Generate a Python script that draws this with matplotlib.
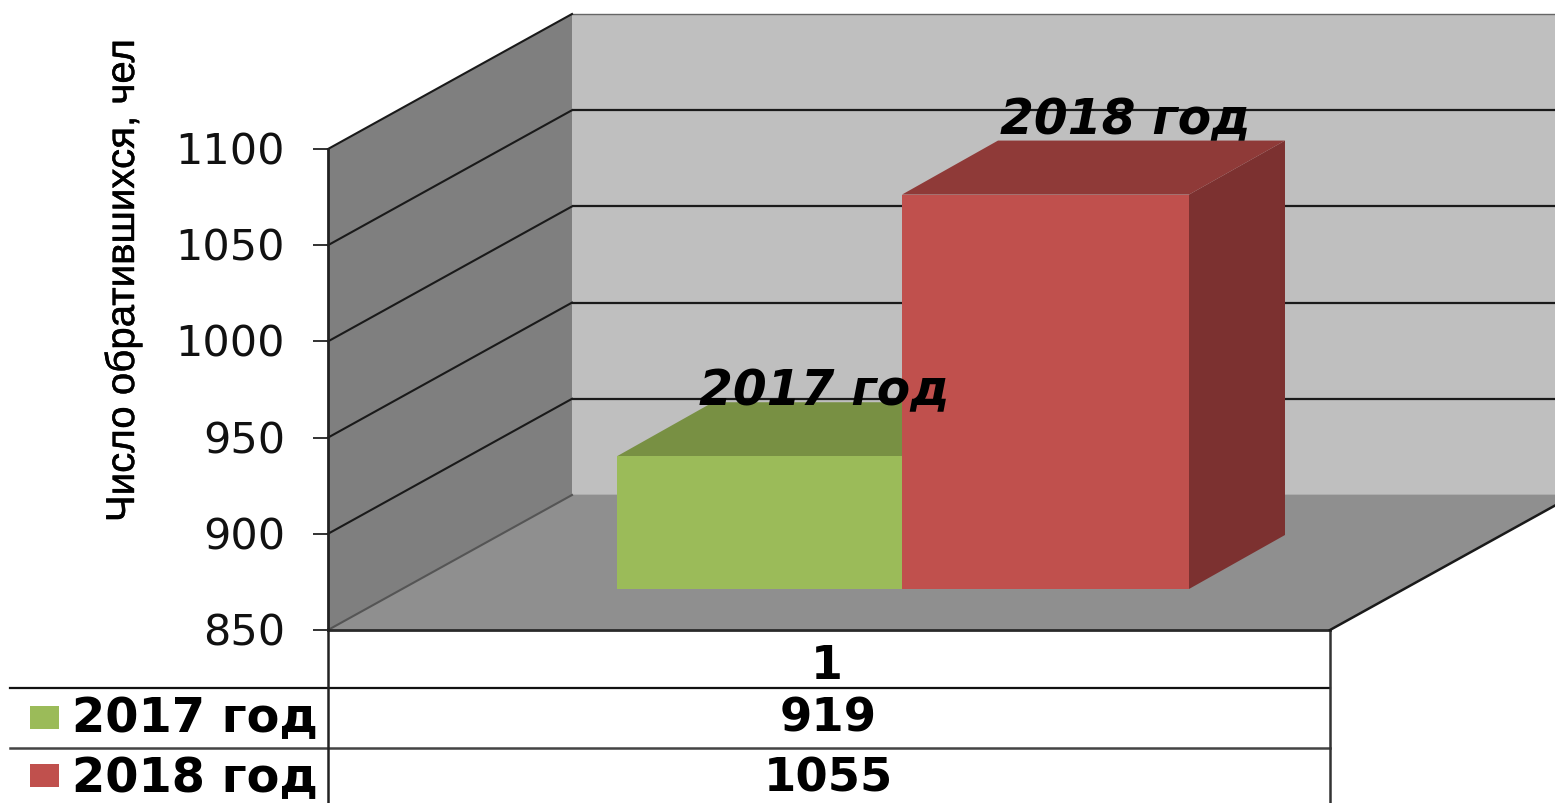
import matplotlib
matplotlib.use("Agg")
import matplotlib.pyplot as plt
import matplotlib.patheffects as pe
from matplotlib.patches import Polygon, Rectangle
from matplotlib.transforms import ScaledTranslation

series_names = ["2017 год", "2018 год"]
series_values = [919, 1055]
series_colors = ["#9bbb59", "#c0504d"]
top_colors = ["#789043", "#8f3a38"]
side_colors = ["#6f8a3a", "#7c3130"]
y_ticks = [850, 900, 950, 1000, 1050, 1100]
category = "1"
y_title = "Число обратившихся, чел"

W, H = 1555, 804
BASE = 850
PX_PER_VAL = 481 / 250


def px(n):
    # pixel height in value units
    return n / PX_PER_VAL


fig = plt.figure(figsize=(W / 100, H / 100), dpi=100, facecolor="white")

# table part, plain pixel coordinates
tab = fig.add_axes([0, 0, 1, 1])
tab.set_xlim(0, W)
tab.set_ylim(H, 0)
tab.axis("off")

ax = fig.add_axes([328 / W, (H - 631) / H, 1002 / W, 481 / H])
ax.set_xlim(328, 1330)
ax.set_ylim(BASE, 1100)
ax.patch.set_visible(False)
for s in ["top", "right", "bottom"]:
    ax.spines[s].set_visible(False)
ax.spines["left"].set_linewidth(2.0)
ax.spines["left"].set_color("#222222")
ax.spines["left"].set_zorder(6)

# walls and floor
dx, dy = 244, px(135)
ax.add_patch(Polygon([(572, BASE + dy), (1700, BASE + dy), (1700, 1100 + dy), (572, 1100 + dy)],
                     fc="#bfbfbf", ec="none", clip_on=False, zorder=1))
ax.add_patch(Polygon([(328, BASE), (572, BASE + dy), (572, 1100 + dy), (328, 1100)],
                     fc="#7f7f7f", ec="none", clip_on=False, zorder=2))
ax.add_patch(Polygon([(328, BASE), (1330, BASE), (1330 + dx, BASE + dy), (572, BASE + dy)],
                     fc="#8f8f8f", ec="none", clip_on=False, zorder=2))

for v in y_ticks:
    col = "#1a1a1a" if v > BASE else "#555555"
    ax.plot([328, 572], [v, v + dy], color=col, lw=1.5, clip_on=False, zorder=3)
    if v < 1100:
        ax.plot([572, 1700], [v + dy, v + dy], color=col if v > BASE else "#666666",
                lw=1.6 if v > BASE else 1.0, clip_on=False, zorder=1.5)
ax.plot([572, 1700], [1100 + dy, 1100 + dy], color="#666666", lw=1.0, clip_on=False, zorder=1.5)
ax.plot([328, 1330], [BASE, BASE], color="#2a2a2a", lw=2.0, clip_on=False, zorder=5)
ax.plot([1330, 1330 + dx], [BASE, BASE + dy], color="#1a1a1a", lw=1.8, clip_on=False, zorder=5)

# the bars sit part way back on the floor
bar_left = [617, 902]
bar_w = [285, 287]
lift = px(41)
bx, by = 96, px(54)
label_x = [699, 1000]
label_drop = [12, 3]
for i in range(2):
    v = series_values[i]
    x0, x1 = bar_left[i], bar_left[i] + bar_w[i]
    z = 3.5 + i
    ax.add_patch(Polygon([(x1, BASE + lift), (x1 + bx, BASE + lift + by),
                          (x1 + bx, v + lift + by), (x1, v + lift)],
                         fc=side_colors[i], ec="none", clip_on=False, zorder=z))
    ax.add_patch(Polygon([(x0, v + lift), (x1, v + lift), (x1 + bx, v + lift + by), (x0 + bx, v + lift + by)],
                         fc=top_colors[i], ec="none", clip_on=False, zorder=z))
    ax.bar(x0, v - BASE, width=bar_w[i], bottom=BASE + lift, align="edge",
           color=series_colors[i], clip_on=False, zorder=z + 0.1)
    ax.text(label_x[i], v + lift + by - px(label_drop[i]), series_names[i],
            fontsize=35, fontweight="bold", fontstyle="italic", family="DejaVu Sans",
            ha="left", va="bottom", color="black", clip_on=False, zorder=7)

ax.set_yticks(y_ticks)
ax.set_xticks([])
ax.tick_params(axis="y", length=11, width=1.3, pad=20, labelsize=31, color="#222222", labelcolor="#111111")
# nudge tick labels up a little
nudge = ScaledTranslation(0, 2 / 100, fig.dpi_scale_trans)
for lab in ax.get_yticklabels():
    lab.set_transform(lab.get_transform() + nudge)
ax.set_ylabel(y_title, fontsize=29, family="Liberation Sans", color="black",
              path_effects=[pe.withStroke(linewidth=0.3, foreground="black")])
ax.yaxis.set_label_coords((142 - 328) / 1002, (629 - 280) / 481)

# data table under the chart
for yy, c, lw in [(689, "#111111", 1.6), (749, "#444444", 1.8)]:
    tab.plot([10, 1330], [yy, yy], color=c, lw=lw)
tab.plot([328, 328], [630, H], color="#222222", lw=1.8)
tab.plot([1330, 1330], [630, H], color="#333333", lw=1.8)
tab.text(827, 667, category, fontsize=33, fontweight="bold", ha="center", va="center")
row_y = [719, 779]
box_y = [707, 765]
for i in range(2):
    tab.add_patch(Rectangle((30, box_y[i]), 29, 23, fc=series_colors[i], ec="none"))
    tab.text(72, row_y[i], series_names[i], fontsize=34.5, fontweight="bold", ha="left", va="center")
    tab.text(828, row_y[i], str(series_values[i]), fontsize=33.5, fontweight="bold", ha="center", va="center")

fig.savefig("out.png", dpi=100)
